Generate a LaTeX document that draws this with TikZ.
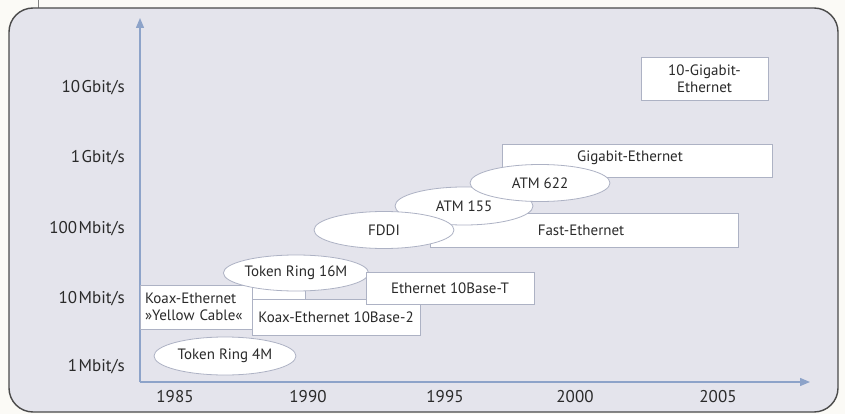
\documentclass[tikz,border=0pt]{standalone}
\usepackage{fontspec}
\setmainfont{PT Sans}
\usetikzlibrary{shapes.geometric,arrows.meta}
\definecolor{pagebg}{HTML}{FBFAF6}
\definecolor{framebg}{HTML}{E4E4EC}
\definecolor{frameline}{HTML}{4A4A4A}
\definecolor{axiscol}{HTML}{8DA3C9}
\definecolor{boxline}{HTML}{ADB2C4}
\definecolor{txt}{HTML}{2A2A2A}
\tikzset{
  techbox/.style={draw=boxline, fill=white, line width=0.8pt, rectangle, inner sep=0pt, text=txt, font=\fontsize{15}{17}\selectfont},
  techell/.style={draw=boxline, fill=white, line width=0.8pt, ellipse, inner sep=0pt, text=txt, font=\fontsize{15}{17}\selectfont},
  techtext/.style={text=txt, font=\fontsize{15}{17}\selectfont, inner sep=0pt},
  axlabel/.style={text=txt, font=\fontsize{17}{19}\selectfont, inner sep=0pt},
  axisline/.style={draw=axiscol, line width=1.3pt, -{Triangle[length=10pt,width=8pt]}}
}
\begin{document}
\begin{tikzpicture}[x=1pt,y=-1pt]
\useasboundingbox (0,0) rectangle (845,414);
\fill[pagebg] (0,0) rectangle (845,414);
\draw[frameline!70, line width=0.8pt] (38,0) -- (38,8);
\draw[frameline, fill=framebg, line width=1.4pt, rounded corners=24pt] (9,8) rectangle (838,412);

% axes
\coordinate (O) at (140,382);
\coordinate (ytop) at (140,18);
\coordinate (xend) at (810,382);
\draw[axisline] (O) -- (ytop);
\draw[axisline] (O) -- (xend);

% y labels
\node[axlabel, anchor=east] (y10g) at (125,88) {10\kern1.5pt Gbit/s};
\node[axlabel, anchor=east] (y1g) at (125,158) {1\kern1.5pt Gbit/s};
\node[axlabel, anchor=east] (y100m) at (125,229) {100\kern1.5pt Mbit/s};
\node[axlabel, anchor=east] (y10m) at (125,299) {10\kern1.5pt Mbit/s};
\node[axlabel, anchor=east] (y1m) at (125,367) {1\kern1.5pt Mbit/s};

% x labels
\node[axlabel] (x85) at (175,397) {1985};
\node[axlabel] (x90) at (308,397) {1990};
\node[axlabel] (x95) at (445,397) {1995};
\node[axlabel] (x00) at (575,397) {2000};
\node[axlabel] (x05) at (718,397) {2005};

% boxes and ellipses
\node[techbox, minimum width=55pt, minimum height=12pt] (tr16stub) at (278,293) {};
\node[techbox, minimum width=112pt, minimum height=44pt, align=left, text width=102pt, inner xsep=5pt] (yellow) at (196,307) {Koax-Ethernet\\»Yellow Cable«};
\node[techbox, minimum width=168pt, minimum height=36pt] (b2) at (336,317) {Koax-Ethernet 10Base-2};
\node[techell, minimum width=138pt, minimum height=36pt] (tr16) at (296,273) {Token Ring 16M};
\node[techbox, minimum width=168pt, minimum height=32pt] (bt) at (450,288) {Ethernet 10Base-T};
\node[techell, minimum width=142pt, minimum height=38pt] (tr4) at (225,356) {Token Ring 4M};
\node[techbox, minimum width=308pt, minimum height=34pt] (fast) at (584,230) {};
\node[techtext] (fasttxt) at (581,230) {Fast-Ethernet};
\node[techbox, minimum width=270pt, minimum height=33pt] (gig) at (637,160.5) {};
\node[techtext] (gigtxt) at (630,158) {Gigabit-Ethernet};
\node[techell, minimum width=138pt, minimum height=38pt] (atm155) at (464,206) {ATM 155};
\node[techell, minimum width=140pt, minimum height=37pt] (fddi) at (384,230) {FDDI};
\node[techell, minimum width=140pt, minimum height=37pt] (atm622) at (540,183) {ATM 622};
\node[techbox, minimum width=127pt, minimum height=43pt, align=center] (g10) at (704.5,78.5) {10-Gigabit-\\Ethernet};
\end{tikzpicture}
\end{document}
